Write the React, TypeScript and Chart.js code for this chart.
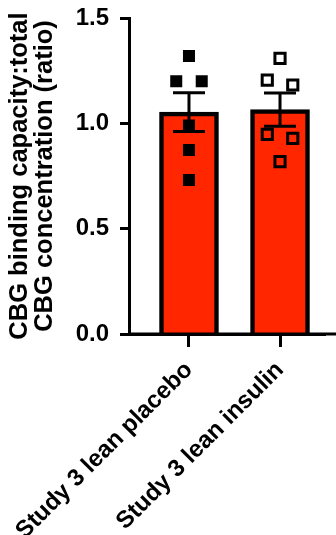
import { useEffect, useRef } from 'react';
import { Chart, registerables } from 'chart.js';

Chart.register(...registerables);

// Groups and summary statistics (mean ± SEM)
const groups = ['Study 3 lean placebo', 'Study 3 lean insulin'];
const groupMeans = [1.053, 1.065];
const groupSem = [0.092, 0.079];

// Individual subjects, with horizontal spread (in group units) so the squares don't overlap
const placeboValues = [1.32, 1.2, 1.2, 0.99, 0.873, 0.731];
const placeboSpread = [0, -0.14, 0.14, 0, 0, 0];
const insulinValues = [1.308, 1.205, 1.182, 0.948, 0.929, 0.818];
const insulinSpread = [0, -0.14, 0.14, -0.14, 0.14, 0];

const yTicks = [0, 0.5, 1.0, 1.5];
const yTitle = ['CBG binding capacity:total', 'CBG concentration (ratio)'];

const FONT = "'Liberation Sans', Arial, Helvetica, sans-serif";
const BAR_RED = '#ff2600';

const errorBars = {
  id: 'errorBars',
  afterDatasetDraw(chart: any, args: any) {
    if (args.meta.type !== 'bar') return;
    const { ctx, scales } = chart;
    const xs = scales.x;
    const ys = scales.y;
    ctx.save();
    ctx.strokeStyle = '#000';
    ctx.lineWidth = 3;
    ctx.lineCap = 'butt';
    groupMeans.forEach((m, i) => {
      const cx = xs.getPixelForValue(i);
      const top = ys.getPixelForValue(m + groupSem[i]);
      const bot = ys.getPixelForValue(m - groupSem[i]);
      const half = 16;
      ctx.beginPath();
      ctx.moveTo(cx, top);
      ctx.lineTo(cx, bot);
      ctx.moveTo(cx - half, top);
      ctx.lineTo(cx + half, top);
      ctx.moveTo(cx - half, bot);
      ctx.lineTo(cx + half, bot);
      ctx.stroke();
    });
    ctx.restore();
  },
};

// The baseline runs from the y axis on to the right edge of the canvas.
const baselineToEdge = {
  id: 'baselineToEdge',
  afterDraw(chart: any) {
    const { ctx, chartArea, width } = chart;
    ctx.save();
    ctx.strokeStyle = '#000';
    ctx.lineWidth = 3;
    ctx.beginPath();
    ctx.moveTo(chartArea.left, chartArea.bottom);
    ctx.lineTo(width, chartArea.bottom);
    ctx.stroke();
    ctx.restore();
  },
};

export default function App() {
  const ref = useRef<HTMLCanvasElement | null>(null);

  useEffect(() => {
    if (!ref.current) return;
    const chart = new Chart(ref.current, {
      type: 'bar',
      data: {
        datasets: [
          {
            type: 'bar',
            data: groupMeans.map((m, i) => ({ x: i, y: m })),
            backgroundColor: BAR_RED,
            borderColor: '#000',
            borderWidth: 4.5,
            barThickness: 59,
            order: 3,
          } as any,
          {
            type: 'scatter',
            data: placeboValues.map((v, i) => ({ x: 0 + placeboSpread[i], y: v })),
            pointStyle: 'rect',
            pointRadius: 8.5,
            backgroundColor: '#000',
            borderColor: '#000',
            borderWidth: 0,
            order: 1,
          } as any,
          {
            type: 'scatter',
            data: insulinValues.map((v, i) => ({ x: 1 + insulinSpread[i], y: v })),
            pointStyle: 'rect',
            pointRadius: 7.2,
            backgroundColor: 'rgba(0,0,0,0)',
            borderColor: '#000',
            borderWidth: 3,
            order: 1,
          } as any,
        ],
      },
      options: {
        animation: false,
        responsive: false,
        maintainAspectRatio: false,
        layout: { padding: { top: 18, right: 0, left: 0, bottom: 0 } },
        plugins: { legend: { display: false }, tooltip: { enabled: false } },
        scales: {
          x: {
            type: 'linear',
            min: -0.659,
            max: 1.503,
            offset: false,
            afterBuildTicks: (scale: any) => {
              scale.ticks = groups.map((_, i) => ({ value: i }));
            },
            afterFit: (scale: any) => {
              scale.height = 201;
              scale.paddingLeft = 0;
              scale.paddingRight = 0;
            },
            ticks: {
              autoSkip: false,
              minRotation: 45,
              maxRotation: 45,
              padding: 9,
              color: '#000',
              font: { family: FONT, size: 24, weight: 'bold' },
              callback: (v: any) => groups[Number(v)] ?? '',
            },
            grid: {
              offset: false,
              drawOnChartArea: false,
              drawTicks: true,
              tickLength: 13,
              tickWidth: 3,
              color: '#000',
            },
            border: { display: true, color: '#000', width: 3 },
          },
          y: {
            type: 'linear',
            min: 0,
            max: 1.5,
            afterBuildTicks: (scale: any) => {
              scale.ticks = yTicks.map((v) => ({ value: v }));
            },
            afterFit: (scale: any) => {
              scale.width = 129;
              scale.paddingTop = 0;
              scale.paddingBottom = 0;
            },
            ticks: {
              padding: 11,
              color: '#000',
              font: { family: FONT, size: 24, weight: 'bold' },
              callback: (v: any) => Number(v).toFixed(1),
            },
            grid: {
              drawOnChartArea: false,
              drawTicks: true,
              tickLength: 9,
              tickWidth: 3,
              color: '#000',
            },
            border: { display: true, color: '#000', width: 3 },
            title: {
              display: true,
              text: yTitle,
              color: '#000',
              font: { family: FONT, size: 25.5, weight: 'bold', lineHeight: 0.98 },
              padding: { top: 7, bottom: 0 },
            },
          },
        },
      } as any,
      plugins: [errorBars, baselineToEdge],
    });
    return () => chart.destroy();
  }, []);

  return (
    <div style={{ position: 'absolute', left: 0, top: 0, width: 336, height: 535 }}>
      <canvas ref={ref} width={336} height={535} style={{ width: 336, height: 535 }} />
    </div>
  );
}
